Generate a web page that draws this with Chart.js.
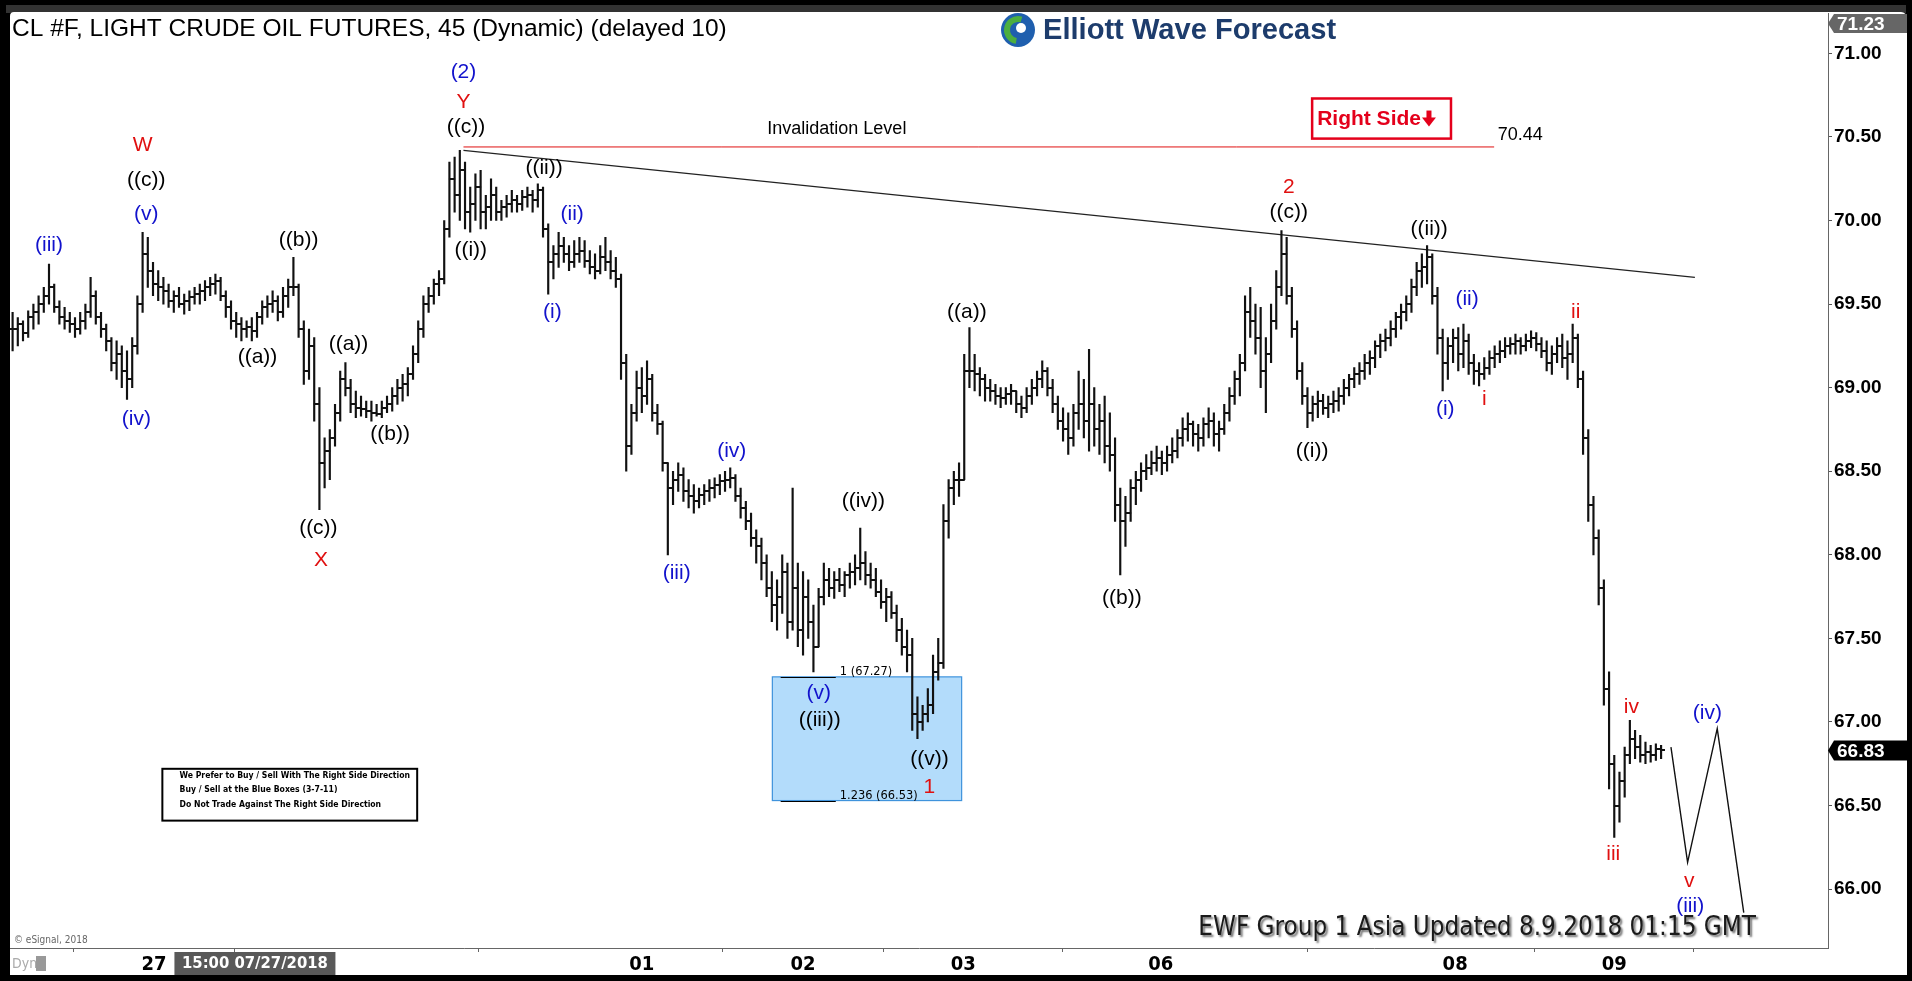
<!DOCTYPE html>
<html>
<head>
<meta charset="utf-8">
<title>CL #F Light Crude Oil Futures 45</title>
<script src="https://cdn.jsdelivr.net/npm/chart.js@4.4.1/dist/chart.umd.min.js"></script>
<style>
html, body { margin: 0; padding: 0; background: #000; overflow: hidden; }
#wrap { position: relative; width: 1912px; height: 981px; }
</style>
</head>
<body>
<div id="wrap"><canvas id="myChart"></canvas></div>
<script>
// 45 minute bars (high / low / close)
const highs = [
    69.45,69.42,69.40,69.46,69.50,69.55,69.60,69.74,69.62,69.52,
    69.48,69.45,69.42,69.45,69.50,69.66,69.58,69.45,69.38,69.30,
    69.28,69.25,69.22,69.30,69.55,69.93,69.90,69.75,69.70,69.66,
    69.62,69.58,69.60,69.56,69.58,69.60,69.62,69.64,69.66,69.68,
    69.66,69.58,69.52,69.45,69.42,69.40,69.42,69.45,69.52,69.55,
    69.58,69.55,69.60,69.65,69.78,69.62,69.40,69.35,69.30,69.00,
    68.70,68.75,68.90,69.10,69.15,69.05,68.98,68.95,68.92,68.92,
    68.90,68.92,68.95,69.00,69.05,69.08,69.12,69.25,69.40,69.55,
    69.60,69.65,69.70,70.00,70.35,70.38,70.42,70.35,70.20,70.28,
    70.30,70.15,70.25,70.20,70.12,70.15,70.18,70.15,70.18,70.20,
    70.18,70.22,70.20,69.98,69.85,69.93,69.90,69.85,69.88,69.90,
    69.88,69.82,69.80,69.85,69.90,69.82,69.78,69.68,69.20,68.90,
    69.10,69.12,69.16,69.08,68.90,68.80,68.55,68.50,68.55,68.52,
    68.45,68.42,68.40,68.42,68.45,68.46,68.48,68.50,68.52,68.48,
    68.40,68.32,68.25,68.15,68.10,68.00,67.90,67.85,68.00,67.95,
    68.40,67.95,67.90,67.85,67.70,67.80,67.95,67.92,67.90,67.92,
    67.90,67.95,68.00,68.16,68.02,67.95,67.92,67.85,67.80,67.78,
    67.70,67.62,67.55,67.50,67.15,67.10,67.20,67.40,67.50,68.30,
    68.45,68.50,68.55,69.20,69.36,69.20,69.12,69.08,69.05,69.02,
    69.00,69.00,69.02,68.98,68.95,69.00,69.05,69.10,69.16,69.12,
    69.05,68.95,68.88,68.85,68.90,69.10,69.05,69.23,69.00,68.90,
    68.95,68.85,68.70,68.40,68.35,68.45,68.50,68.55,68.60,68.62,
    68.65,68.62,68.65,68.70,68.75,68.82,68.85,68.80,68.78,68.82,
    68.88,68.85,68.80,68.90,69.00,69.10,69.20,69.55,69.60,69.50,
    69.48,69.30,69.50,69.70,69.94,69.90,69.60,69.40,69.15,69.00,
    68.95,68.98,68.96,68.95,68.98,69.00,69.05,69.08,69.12,69.15,
    69.20,69.22,69.28,69.32,69.35,69.40,69.45,69.50,69.55,69.65,
    69.75,69.80,69.85,69.80,69.60,69.35,69.30,69.35,69.36,69.38,
    69.32,69.20,69.15,69.18,69.22,69.25,69.28,69.30,69.30,69.32,
    69.30,69.32,69.34,69.33,69.30,69.28,69.25,69.30,69.32,69.28,
    69.38,69.32,69.10,68.75,68.35,68.15,67.85,67.30,66.80,66.70,
    66.85,67.01,66.95,66.92,66.88,66.86,66.87,66.86
];
const lows = [
    69.22,69.25,69.28,69.30,69.35,69.38,69.45,69.50,69.45,69.38,
    69.35,69.33,69.30,69.32,69.35,69.42,69.38,69.30,69.22,69.10,
    69.05,69.00,68.93,69.00,69.20,69.45,69.60,69.55,69.52,69.50,
    69.48,69.45,69.48,69.44,69.46,69.50,69.50,69.52,69.55,69.56,
    69.52,69.42,69.35,69.30,69.28,69.30,69.28,69.30,69.38,69.42,
    69.45,69.40,69.42,69.48,69.55,69.30,69.02,69.05,68.80,68.27,
    68.40,68.45,68.65,68.80,68.95,68.85,68.82,68.83,68.82,68.80,
    68.83,68.82,68.85,68.86,68.90,68.92,68.95,69.05,69.15,69.30,
    69.45,69.50,69.55,69.62,69.90,70.05,70.00,69.95,69.93,70.00,
    69.95,69.95,70.00,70.00,70.00,70.02,70.05,70.05,70.06,70.08,
    70.05,70.08,69.90,69.56,69.65,69.72,69.75,69.70,69.72,69.75,
    69.72,69.68,69.65,69.68,69.70,69.65,69.60,69.05,68.50,68.60,
    68.80,68.85,68.90,68.80,68.72,68.50,68.00,68.30,68.38,68.32,
    68.28,68.25,68.28,68.30,68.32,68.34,68.36,68.38,68.40,68.32,
    68.22,68.15,68.05,67.95,67.85,67.75,67.60,67.55,67.65,67.50,
    67.55,67.45,67.40,67.50,67.30,67.45,67.70,67.75,67.74,67.78,
    67.75,67.80,67.82,67.85,67.82,67.80,67.75,67.68,67.60,67.62,
    67.48,67.40,67.30,66.95,66.90,66.95,67.00,67.05,67.25,67.32,
    68.10,68.30,68.35,68.45,69.00,68.98,68.95,68.92,68.92,68.90,
    68.88,68.90,68.90,68.85,68.82,68.85,68.90,68.95,69.00,68.95,
    68.85,68.75,68.68,68.60,68.65,68.75,68.70,68.62,68.65,68.60,
    68.55,68.50,68.20,67.88,68.05,68.20,68.30,68.38,68.45,68.48,
    68.50,68.48,68.50,68.55,68.58,68.65,68.68,68.65,68.62,68.65,
    68.70,68.65,68.62,68.72,68.80,68.90,68.95,69.10,69.30,69.20,
    69.00,68.85,69.15,69.35,69.55,69.50,69.30,69.05,68.90,68.76,
    68.80,68.82,68.84,68.82,68.85,68.86,68.90,68.95,69.00,69.02,
    69.05,69.08,69.12,69.18,69.22,69.25,69.30,69.35,69.40,69.45,
    69.55,69.60,69.62,69.50,69.20,68.98,69.05,69.15,69.10,69.12,
    69.08,69.02,69.01,69.05,69.08,69.12,69.15,69.18,69.20,69.20,
    69.20,69.22,69.24,69.22,69.18,69.10,69.08,69.15,69.12,69.05,
    69.15,69.00,68.60,68.20,68.00,67.70,67.10,66.60,66.31,66.40,
    66.55,66.75,66.78,66.76,66.75,66.76,66.77,66.78
];
const closes = [
    69.35,69.38,69.33,69.42,69.45,69.50,69.55,69.60,69.48,69.42,
    69.40,69.38,69.35,69.40,69.45,69.55,69.42,69.35,69.28,69.15,
    69.20,69.10,69.05,69.25,69.50,69.80,69.70,69.62,69.60,69.58,
    69.52,69.55,69.50,69.52,69.54,69.56,69.58,69.60,69.62,69.64,
    69.55,69.48,69.40,69.38,69.35,69.36,69.34,69.42,69.48,69.50,
    69.52,69.45,69.55,69.60,69.60,69.35,69.10,69.25,68.90,68.55,
    68.62,68.70,68.85,69.05,69.00,68.90,68.88,68.87,68.86,68.85,
    68.84,68.88,68.90,68.95,69.00,69.02,69.08,69.20,69.35,69.50,
    69.55,69.62,69.65,69.95,70.25,70.15,70.30,70.05,70.10,70.20,
    70.05,70.08,70.15,70.05,70.08,70.10,70.12,70.10,70.14,70.15,
    70.12,70.18,69.95,69.75,69.80,69.85,69.80,69.75,69.80,69.82,
    69.76,69.72,69.70,69.78,69.75,69.70,69.65,69.15,68.65,68.85,
    69.00,68.95,69.05,68.85,68.78,68.55,68.40,68.45,68.48,68.38,
    68.35,68.32,68.36,68.38,68.40,68.42,68.44,68.45,68.46,68.35,
    68.28,68.20,68.10,68.05,67.95,67.80,67.70,67.75,67.90,67.60,
    67.80,67.55,67.75,67.60,67.45,67.75,67.85,67.80,67.85,67.82,
    67.88,67.90,67.92,67.95,67.88,67.85,67.78,67.72,67.75,67.65,
    67.55,67.45,67.40,67.05,67.00,67.05,67.10,67.30,67.35,68.20,
    68.40,68.45,68.45,69.10,69.10,69.08,69.05,69.00,68.98,68.95,
    68.94,68.96,68.98,68.90,68.88,68.95,69.00,69.05,69.10,69.00,
    68.90,68.80,68.75,68.70,68.85,68.90,68.80,68.90,68.75,68.80,
    68.65,68.60,68.30,68.20,68.25,68.40,68.45,68.50,68.52,68.55,
    68.58,68.55,68.60,68.62,68.70,68.75,68.78,68.72,68.70,68.78,
    68.80,68.72,68.75,68.85,68.95,69.05,69.15,69.45,69.40,69.30,
    69.10,69.20,69.40,69.60,69.80,69.55,69.35,69.10,68.95,68.85,
    68.90,68.92,68.88,68.90,68.92,68.95,69.00,69.05,69.08,69.10,
    69.15,69.18,69.25,69.28,69.30,69.35,69.42,69.45,69.50,69.60,
    69.70,69.72,69.78,69.55,69.30,69.15,69.25,69.30,69.20,69.28,
    69.15,69.10,69.08,69.12,69.18,69.20,69.22,69.25,69.26,69.28,
    69.25,69.28,69.30,69.26,69.22,69.15,69.20,69.25,69.18,69.20,
    69.30,69.05,68.70,68.30,68.10,67.80,67.20,66.75,66.50,66.65,
    66.80,66.90,66.85,66.80,66.82,66.80,66.84,66.83
];

// axis ticks
const dayTickPos = [27.2, 58.15, 121.0, 152.0, 182.8, 220.8, 277.4, 308.0];
const dayTickText = ['27', '', '01', '02', '03', '06', '08', '09'];
const priceTicks = [66.0, 66.5, 67.0, 67.5, 68.0, 68.5, 69.0, 69.5, 70.0, 70.5, 71.0];
const topPrice = 71.23;
const lastPrice = 66.83;
const crossTagX = 46.6;
const crossTagText = '15:00 07/27/2018';

// drawn lines
const invalidLevel = 70.44;
const invalidX = [86.7, 284.9];
const trendX = [86.7, 323.5];
const trendY = [70.42, 69.66];
const pathX = [318.9, 322.1, 327.8, 332.9];
const pathY = [66.85, 66.16, 66.96, 65.86];

// blue box and fib levels
const boxX = [146.1, 182.5];
const boxY = [67.27, 66.53];
const fibLevels = [67.27, 66.53];
const fibLineX = [147.7, 158.3];
const fibText = ['1 (67.27)', '1.236 (66.53)'];

// wave labels
const waveText = ['(iii)','(iv)','(v)','((c))','W','((a))','((b))','((c))','X','((a))','((b))',
    '(2)','Y','((c))','((i))','((ii))','(ii)','(i)','(iii)','(iv)','(v)','((iii))','((iv))','((v))','1',
    '((a))','((b))','2','((c))','((i))','((ii))','(ii)','(i)','i','ii','iii','iv','v','(iii)','(iv)'];
const waveX = [7.0,23.8,25.7,25.7,25.0,47.1,55.0,58.8,59.3,64.6,72.6,
    86.7,86.7,87.2,88.1,102.2,107.6,103.8,127.7,138.3,155.0,155.2,163.6,176.3,176.3,
    183.5,213.3,245.4,245.4,249.9,272.4,279.7,275.5,283.0,300.6,307.8,311.3,322.4,322.6,325.9];
const waveY = [69.85,68.81,70.04,70.24,70.45,69.18,69.88,68.16,67.97,69.26,68.72,
    70.89,70.71,70.56,69.82,70.31,70.04,69.45,67.89,68.62,67.17,67.01,68.32,66.78,66.61,
    69.45,67.74,70.20,70.05,68.62,69.95,69.53,68.87,68.93,69.45,66.21,67.09,66.05,65.90,67.05];
const waveColor = ['b','b','b','k','r','k','k','k','r','k','k',
    'b','r','k','k','k','b','b','b','b','b','k','k','k','r',
    'k','k','r','k','k','k','b','b','r','r','r','r','r','b','b'];
const colorMap = { k: '#000000', b: '#1212cc', r: '#e01010' };

const disclaimer = ['We Prefer to Buy / Sell With The Right Side Direction',
    'Buy / Sell at the Blue Boxes (3-7-11)',
    'Do Not Trade Against The Right Side Direction'];

const SANS = '"Liberation Sans", Arial, sans-serif';
const NARROW = '"Liberation Sans Narrow", "DejaVu Sans Condensed", sans-serif';

const opens = closes.map((c, i) => i === 0 ? c : Math.min(highs[i], Math.max(lows[i], closes[i - 1])));

function tickImage(side)
{
    const cv = document.createElement('canvas');
    cv.width = 7;
    cv.height = 2;
    const g = cv.getContext('2d');
    g.fillStyle = '#111';
    if (side === 'open') g.fillRect(0, 0, 4, 2);
    else g.fillRect(3, 0, 4, 2);
    return cv;
}

function fitFont(ctx, text, weight, family, width)
{
    ctx.font = weight + ' 100px ' + family;
    const w = ctx.measureText(text).width;
    return weight + ' ' + (100 * width / w).toFixed(1) + 'px ' + family;
}

function tag(ctx, x, yMid, w, h, fill, text)
{
    ctx.fillStyle = fill;
    ctx.beginPath();
    ctx.moveTo(x, yMid);
    ctx.lineTo(x + 6, yMid - h / 2);
    ctx.lineTo(x + w, yMid - h / 2);
    ctx.lineTo(x + w, yMid + h / 2);
    ctx.lineTo(x + 6, yMid + h / 2);
    ctx.closePath();
    ctx.fill();
    ctx.fillStyle = '#fff';
    ctx.font = 'bold 19px ' + SANS;
    ctx.textAlign = 'left';
    ctx.textBaseline = 'middle';
    ctx.fillText(text, x + 9, yMid + 1);
}

const overlay = {
    id: 'overlay',
    beforeDraw(chart)
    {
        const c = chart.ctx;
        c.save();
        c.fillStyle = '#000';
        c.fillRect(0, 0, chart.width, chart.height);
        c.fillStyle = '#333';
        c.fillRect(6, 5, chart.width - 12, 8);
        c.fillStyle = '#fff';
        c.beginPath();
        c.roundRect(10, 12, 1897, 963, [4, 6, 0, 0]);
        c.fill();
        c.restore();
    },
    beforeDatasetsDraw(chart)
    {
        const c = chart.ctx;
        const xs = chart.scales.x, ys = chart.scales.y;
        c.save();
        // blue box
        const bx0 = xs.getPixelForValue(boxX[0]), bx1 = xs.getPixelForValue(boxX[1]);
        const by0 = ys.getPixelForValue(boxY[0]), by1 = ys.getPixelForValue(boxY[1]);
        c.fillStyle = '#b3dcfb';
        c.fillRect(bx0, by0, bx1 - bx0, by1 - by0);
        c.strokeStyle = '#3f93dc';
        c.lineWidth = 1.2;
        c.strokeRect(bx0, by0, bx1 - bx0, by1 - by0);
        // fib levels
        c.strokeStyle = '#000';
        c.lineWidth = 1;
        c.font = fitFont(c, fibText[1], 'normal', NARROW, 78);
        c.fillStyle = '#000';
        c.textAlign = 'left';
        c.textBaseline = 'bottom';
        fibLevels.forEach((lv, i) =>
        {
            const y = Math.round(ys.getPixelForValue(lv)) + 0.5;
            c.beginPath();
            c.moveTo(xs.getPixelForValue(fibLineX[0]), y);
            c.lineTo(xs.getPixelForValue(fibLineX[1]), y);
            c.stroke();
            c.fillText(fibText[i], xs.getPixelForValue(fibLineX[1]) + 4, y + 1);
        });
        c.restore();
    },
    afterDatasetsDraw(chart)
    {
        const c = chart.ctx;
        const xs = chart.scales.x, ys = chart.scales.y;
        const px = v => xs.getPixelForValue(v), py = v => ys.getPixelForValue(v);
        c.save();
        // wave labels
        c.textAlign = 'center';
        c.textBaseline = 'middle';
        c.font = '21px ' + SANS;
        waveText.forEach((t, i) =>
        {
            c.fillStyle = colorMap[waveColor[i]];
            c.fillText(t, px(waveX[i]), py(waveY[i]));
        });
        // invalidation text
        c.fillStyle = '#000';
        c.font = '18px ' + SANS;
        c.fillText('Invalidation Level', px(158.5), py(70.55));
        c.textAlign = 'left';
        c.fillText(invalidLevel.toFixed(2), px(285.6), py(70.51));

        // right side box
        const rx0 = px(249.9), rx1 = px(276.6), ry0 = py(70.73), ry1 = py(70.49);
        c.fillStyle = '#fff';
        c.fillRect(rx0, ry0, rx1 - rx0, ry1 - ry0);
        c.strokeStyle = '#e4001b';
        c.lineWidth = 2.5;
        c.strokeRect(rx0, ry0, rx1 - rx0, ry1 - ry0);
        c.fillStyle = '#e4001b';
        c.font = 'bold 21px ' + SANS;
        c.textBaseline = 'middle';
        const rText = 'Right Side';
        c.fillText(rText, rx0 + 5, (ry0 + ry1) / 2 + 1);
        const ax = rx0 + 5 + c.measureText(rText).width + 8, ay = (ry0 + ry1) / 2;
        c.fillRect(ax - 2.5, ay - 8, 5, 8);
        c.beginPath();
        c.moveTo(ax - 7, ay - 1);
        c.lineTo(ax + 7, ay - 1);
        c.lineTo(ax, ay + 8);
        c.closePath();
        c.fill();

        // disclaimer box
        const dx0 = px(28.8), dx1 = px(77.8), dy0 = py(66.72), dy1 = py(66.41);
        c.fillStyle = '#fff';
        c.fillRect(dx0, dy0, dx1 - dx0, dy1 - dy0);
        c.strokeStyle = '#000';
        c.lineWidth = 2;
        c.strokeRect(dx0, dy0, dx1 - dx0, dy1 - dy0);
        c.fillStyle = '#000';
        const dFont = fitFont(c, disclaimer[0], 'bold', NARROW, 232);
        c.font = dFont;
        [66.68, 66.595, 66.505].forEach((lv, i) => c.fillText(disclaimer[i], px(32.1), py(lv)));
        c.restore();
    },
    afterDraw(chart)
    {
        const c = chart.ctx;
        const xs = chart.scales.x, ys = chart.scales.y;
        const area = chart.chartArea;
        c.save();
        // title
        c.fillStyle = '#000';
        c.textAlign = 'left';
        c.textBaseline = 'middle';
        const title = 'CL #F, LIGHT CRUDE OIL FUTURES, 45 (Dynamic) (delayed 10)';
        c.font = fitFont(c, title, 'normal', SANS, 716);
        c.fillText(title, 12, 29);

        // logo
        const lx = 1018, ly = 30;
        c.fillStyle = '#1f5fae';
        c.beginPath();
        c.arc(lx, ly, 17, 0, Math.PI * 2);
        c.fill();
        c.strokeStyle = '#4cae3f';
        c.lineWidth = 6;
        c.beginPath();
        c.arc(lx, ly, 11, Math.PI * 0.55, Math.PI * 1.6);
        c.stroke();
        c.fillStyle = '#fff';
        c.beginPath();
        c.arc(lx + 3, ly - 2, 5, 0, Math.PI * 2);
        c.fill();
        c.fillStyle = '#1d3c6c';
        const logo = 'Elliott Wave Forecast';
        c.font = fitFont(c, logo, 'bold', SANS, 293);
        c.fillText(logo, 1043, ly + 1);

        // updated stamp
        const stamp = 'EWF Group 1 Asia Updated 8.9.2018 01:15 GMT';
        c.font = fitFont(c, stamp, 'normal', NARROW, 557);
        c.textAlign = 'right';
        c.shadowColor = 'rgba(0,0,0,0.55)';
        c.shadowOffsetX = 2;
        c.shadowOffsetY = 2;
        c.shadowBlur = 2;
        c.fillStyle = '#1a1a1a';
        c.fillText(stamp, 1756, 928);
        c.shadowColor = 'transparent';

        // small texts bottom left
        c.textAlign = 'left';
        c.fillStyle = '#666';
        c.font = '10px ' + NARROW;
        c.fillText('\u00A9 eSignal, 2018', 14, 940);
        c.fillStyle = '#aaa';
        c.font = '14px ' + NARROW;
        c.fillText('Dyn', 12, 964);
        c.fillStyle = '#999';
        c.fillRect(36, 956, 10, 15);

        // crosshair date tag
        c.font = fitFont(c, crossTagText, 'bold', NARROW, 146);
        const tw = 161;
        const tx = xs.getPixelForValue(crossTagX);
        c.fillStyle = '#595959';
        c.fillRect(tx - tw / 2, area.bottom + 4, tw, 23);
        c.fillStyle = '#fff';
        c.textAlign = 'center';
        c.fillText(crossTagText, tx, area.bottom + 16);

        // price tags
        tag(c, area.right, area.top + 10, 79, 19, '#666', topPrice.toFixed(2));
        tag(c, area.right, ys.getPixelForValue(lastPrice), 79, 20, '#000', lastPrice.toFixed(2));
        c.restore();
    }
};

const ctx = document.getElementById('myChart').getContext('2d');
const myChart = new Chart(ctx, {
    type: 'bar',
    data: {
        datasets: [
            {
                type: 'bar',
                data: highs.map((h, i) => ({ x: i, y: [lows[i], h] })),
                backgroundColor: '#111',
                borderWidth: 0,
                barThickness: 1.5
            },
            {
                type: 'line',
                data: opens.map((o, i) => ({ x: i, y: o })),
                showLine: false,
                pointStyle: tickImage('open'),
                pointRadius: 3
            },
            {
                type: 'line',
                data: closes.map((v, i) => ({ x: i, y: v })),
                showLine: false,
                pointStyle: tickImage('close'),
                pointRadius: 3
            },
            {
                type: 'line',
                data: trendX.map((x, i) => ({ x: x, y: trendY[i] })),
                borderColor: '#222',
                borderWidth: 1.3,
                pointRadius: 0
            },
            {
                type: 'line',
                data: invalidX.map(x => ({ x: x, y: invalidLevel })),
                borderColor: '#e01010',
                borderWidth: 1,
                pointRadius: 0
            },
            {
                type: 'line',
                data: pathX.map((x, i) => ({ x: x, y: pathY[i] })),
                borderColor: '#111',
                borderWidth: 1.4,
                pointRadius: 0,
                tension: 0
            }
        ]
    },
    options: {
        responsive: true,
        maintainAspectRatio: false,
        devicePixelRatio: 1,
        animation: false,
        events: [],
        layout: { padding: { left: 10, top: 12, right: 5, bottom: 6 } },
        plugins: { legend: { display: false }, tooltip: { enabled: false } },
        scales: {
            x: {
                type: 'linear',
                min: -0.5,
                max: 349.1,
                offset: false,
                grid: { drawOnChartArea: false, drawTicks: true, tickLength: 4, color: '#666' },
                border: { color: '#666' },
                ticks: {
                    autoSkip: false,
                    maxRotation: 0,
                    padding: 1,
                    color: '#000',
                    font: { family: NARROW, size: 20, weight: 'bold' },
                    callback: (v, idx) => dayTickText[idx]
                },
                afterBuildTicks: s => { s.ticks = dayTickPos.map(v => ({ value: v })); },
                afterFit: s => { s.height = 27; }
            },
            y: {
                position: 'right',
                min: 65.648,
                max: 71.239,
                grid: { drawOnChartArea: false, drawTicks: true, tickLength: 4, color: '#555' },
                border: { color: '#666' },
                ticks: {
                    padding: 2,
                    color: '#000',
                    font: { family: SANS, size: 19, weight: 'bold' },
                    callback: v => Number(v).toFixed(2)
                },
                afterBuildTicks: s => { s.ticks = priceTicks.map(v => ({ value: v })); },
                afterFit: s => { s.width = 79; }
            }
        }
    },
    plugins: [overlay]
});
</script>
</body>
</html>
